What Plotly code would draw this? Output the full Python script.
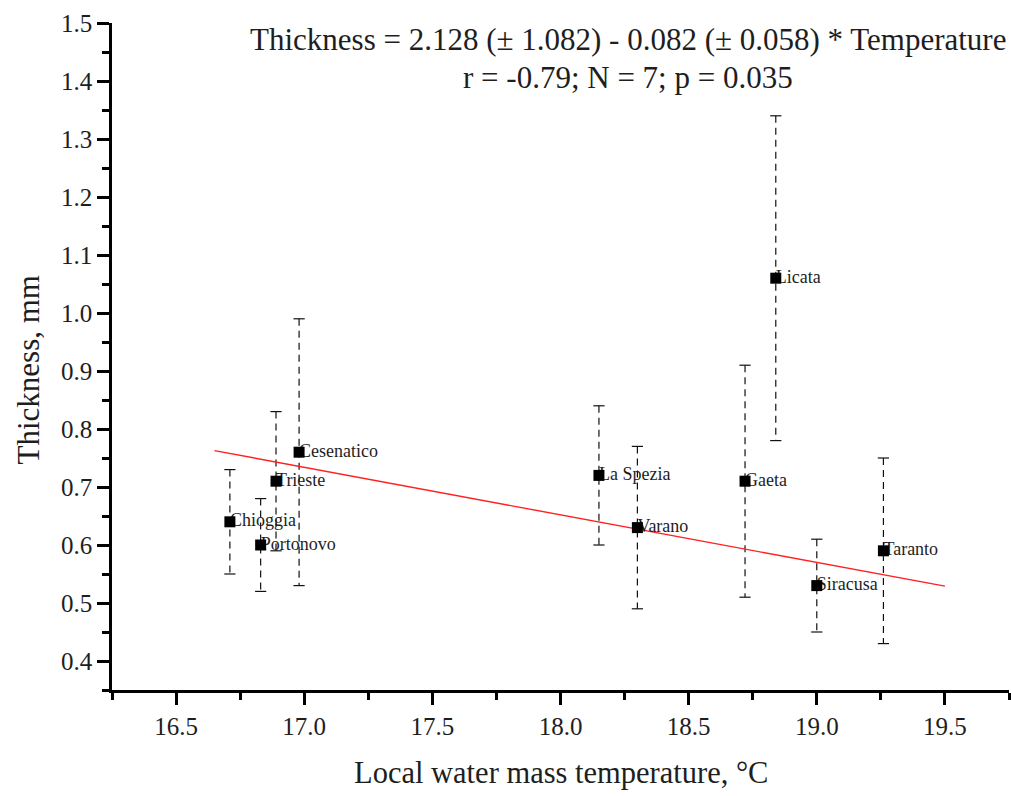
import plotly.graph_objects as go

# Sites and their mean shell thickness with the local water temperature
sites = ["Chioggia", "Portonovo", "Trieste", "Cesenatico", "La Spezia",
         "Varano", "Gaeta", "Licata", "Siracusa", "Taranto"]
temperature = [16.71, 16.83, 16.89, 16.98, 18.15, 18.30, 18.72, 18.84, 19.00, 19.26]
thickness = [0.64, 0.60, 0.71, 0.76, 0.72, 0.63, 0.71, 1.06, 0.53, 0.59]
thickness_sd = [0.09, 0.08, 0.12, 0.23, 0.12, 0.14, 0.20, 0.28, 0.08, 0.16]

# Linear fit: Thickness = a + b * Temperature
fit_a = 2.128
fit_b = -0.082
fit_x = [16.65, 19.5]

x_ticks = [16.5, 17.0, 17.5, 18.0, 18.5, 19.0, 19.5]
y_ticks = [0.4, 0.5, 0.6, 0.7, 0.8, 0.9, 1.0, 1.1, 1.2, 1.3, 1.4, 1.5]

FONT = "Liberation Serif, Times New Roman, serif"
INK = "#1e1e1e"

fig = go.Figure()

# dashed error bars (mean +/- SD)
bx, by = [], []
for t, m, s in zip(temperature, thickness, thickness_sd):
    bx += [t, t, None]
    by += [m + s, m - s, None]
fig.add_trace(go.Scatter(
    x=bx, y=by, mode="lines", hoverinfo="skip", showlegend=False,
    line=dict(color="#111111", width=1.2, dash="7px,5px"),
))
# bar caps
fig.add_trace(go.Scatter(
    x=temperature + temperature,
    y=[m + s for m, s in zip(thickness, thickness_sd)]
      + [m - s for m, s in zip(thickness, thickness_sd)],
    mode="markers", hoverinfo="skip", showlegend=False,
    marker=dict(symbol="line-ew", size=8, line=dict(color="#111111", width=1.2)),
))

# regression line
fig.add_trace(go.Scatter(
    x=fit_x, y=[fit_a + fit_b * v for v in fit_x],
    mode="lines", showlegend=False,
    line=dict(color="#ff2020", width=1.4),
))

# site names (drawn beneath the markers)
fig.add_trace(go.Scatter(
    x=temperature, y=thickness, text=sites, mode="text",
    textposition="middle right", showlegend=False, hoverinfo="skip",
    textfont=dict(family=FONT, size=18, color=INK),
))

# site means
fig.add_trace(go.Scatter(
    x=temperature, y=thickness, mode="markers", showlegend=False,
    marker=dict(symbol="square", size=11, color="black"),
))

axis_common = dict(
    showgrid=False, zeroline=False, showline=True, linecolor="black",
    linewidth=2.5, ticks="outside", tickcolor="black", tickwidth=2.5,
    ticklen=12, tickfont=dict(family=FONT, size=25, color=INK),
    mirror=False,
)

fig.update_layout(
    width=1011, height=796,
    margin=dict(l=112, r=2, t=23, b=106),
    paper_bgcolor="white", plot_bgcolor="white",
    xaxis=dict(
        range=[16.25, 19.75], tickvals=x_ticks,
        ticktext=[f"{v:.1f}" for v in x_ticks],
        minor=dict(tickvals=[16.25, 16.75, 17.25, 17.75, 18.25, 18.75, 19.25, 19.75],
                   ticks="outside", ticklen=7, tickwidth=2.5, tickcolor="black"),
        **axis_common,
    ),
    yaxis=dict(
        range=[0.35, 1.5], tickvals=y_ticks,
        ticktext=[f"{v:.1f}" for v in y_ticks],
        minor=dict(dtick=0.05, tick0=0.35, ticks="outside", ticklen=7,
                   tickwidth=2.5, tickcolor="black"),
        **axis_common,
    ),
    annotations=[
        dict(text="Thickness = 2.128 (± 1.082) - 0.082 (± 0.058) * Temperature",
             xref="paper", yref="paper", x=0.575, y=1, yshift=-16,
             xanchor="center", yanchor="middle", showarrow=False,
             font=dict(family=FONT, size=31, color=INK)),
        dict(text="r = -0.79; N = 7; p = 0.035",
             xref="paper", yref="paper", x=0.575, y=1, yshift=-54,
             xanchor="center", yanchor="middle", showarrow=False,
             font=dict(family=FONT, size=31, color=INK)),
        dict(text="Local water mass temperature, °C",
             xref="paper", yref="paper", x=0.5, y=0, yshift=-83,
             xanchor="center", yanchor="middle", showarrow=False,
             font=dict(family=FONT, size=30.5, color=INK)),
        dict(text="Thickness, mm", textangle=-90,
             xref="paper", yref="paper", x=0, y=0.5, xshift=-84, yshift=-14,
             xanchor="center", yanchor="middle", showarrow=False,
             font=dict(family=FONT, size=31, color=INK)),
    ],
)

fig.write_html("out.html")
